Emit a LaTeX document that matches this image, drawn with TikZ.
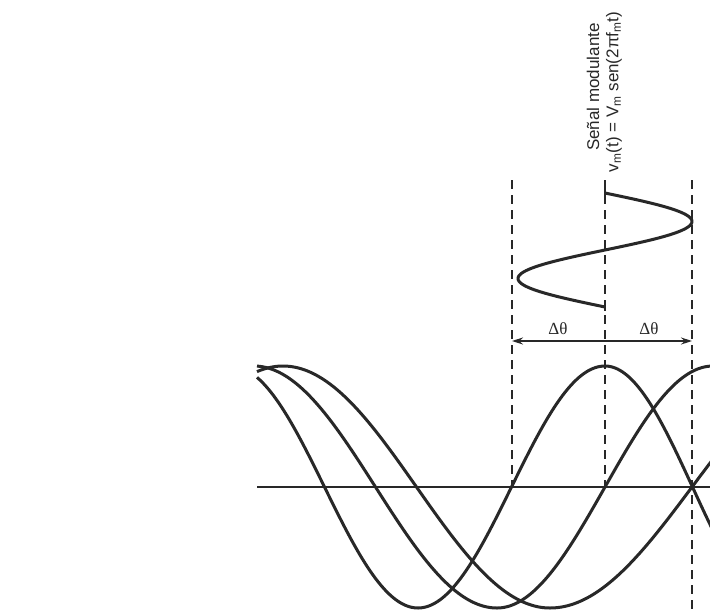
\documentclass[tikz,border=0pt]{standalone}
\usepackage{fontspec}
\setmainfont{Liberation Serif}
\newfontfamily\labelsans{Liberation Sans}
\usetikzlibrary{arrows.meta}
\definecolor{ink}{RGB}{40,40,40}
\begin{document}
\begin{tikzpicture}[x=1pt,y=-1pt,
  wave/.style={draw=ink, line width=3pt, line join=round},
  guide/.style={draw=ink, line width=1.3pt, dash pattern=on 9pt off 6pt},
  tick/.style={draw=ink, line width=1.4pt},
  axisline/.style={draw=ink, line width=1.8pt},
  dimline/.style={draw=ink, line width=1.3pt, {Stealth[length=11pt,width=7pt]}-{Stealth[length=11pt,width=7pt]}},
  vlabel/.style={text=ink, font=\labelsans\fontsize{17}{20}\selectfont, rotate=90, inner sep=0pt},
  dlabel/.style={text=ink, font=\fontsize{17}{20}\selectfont, inner sep=0pt}]
\useasboundingbox (0,0) rectangle (710,614);
\clip (0,0) rectangle (710,614);
\fill[white] (0,0) rectangle (710,614);

% guide coordinates
\coordinate (gLt) at (512,180); \coordinate (gLb) at (512,487);
\coordinate (gMt) at (605,180); \coordinate (gMb) at (605,487);
\coordinate (gRt) at (692,180); \coordinate (gRb) at (692,614);
\coordinate (axL) at (257,487); \coordinate (axR) at (710,487);
\coordinate (dL) at (512,341); \coordinate (dR) at (692,341);
\coordinate (tk1a) at (605,189); \coordinate (tk1b) at (605,197);
\coordinate (tk2a) at (605,303); \coordinate (tk2b) at (605,311);

% dashed guides
\draw[guide] (gLt) -- (gLb);
\draw[guide] (gMt) -- (gMb);
\draw[guide] (gRt) -- (gRb);

% modulating signal label
\node[vlabel] (t1) at (593,87) {Señal modulante};
\node[vlabel] (t2) at (614,92) {v\textsubscript{m}(t) = V\textsubscript{m} sen(2πf\textsubscript{m}t)};

% modulating signal (vertical sine)
\draw[wave] plot[domain=193:307, samples=120, variable=\t] ({605+87*sin((360/114)*(\t-193))},{\t});
\draw[tick] (tk1a) -- (tk1b);
\draw[tick] (tk2a) -- (tk2b);

% delta theta
\draw[dimline] (dL) -- (dR);
\node[dlabel] (d1) at (558,329) {Δθ};
\node[dlabel] (d2) at (649,329) {Δθ};

% axis
\draw[axisline] (axL) -- (axR);

% carrier waves
\draw[wave] plot[domain=257:418, samples=80] (\x,{487-121*cos((180/187)*(\x-231))})
  -- plot[domain=418:605, samples=80] (\x,{487+121*cos((180/187)*(\x-418))})
  -- plot[domain=605:712, samples=60] (\x,{487-121*cos((180/175)*(\x-605))});
\draw[wave] plot[domain=257:497, samples=100] (\x,{487-121*cos((180/243)*(\x-254))})
  -- plot[domain=497:712, samples=90] (\x,{487+121*cos((180/216)*(\x-497))});
\draw[wave] plot[domain=257:550, samples=110] (\x,{487-121*cos((180/267)*(\x-283))})
  -- plot[domain=550:712, samples=70] (\x,{487+121*cos((180/284)*(\x-550))});
\end{tikzpicture}
\end{document}
